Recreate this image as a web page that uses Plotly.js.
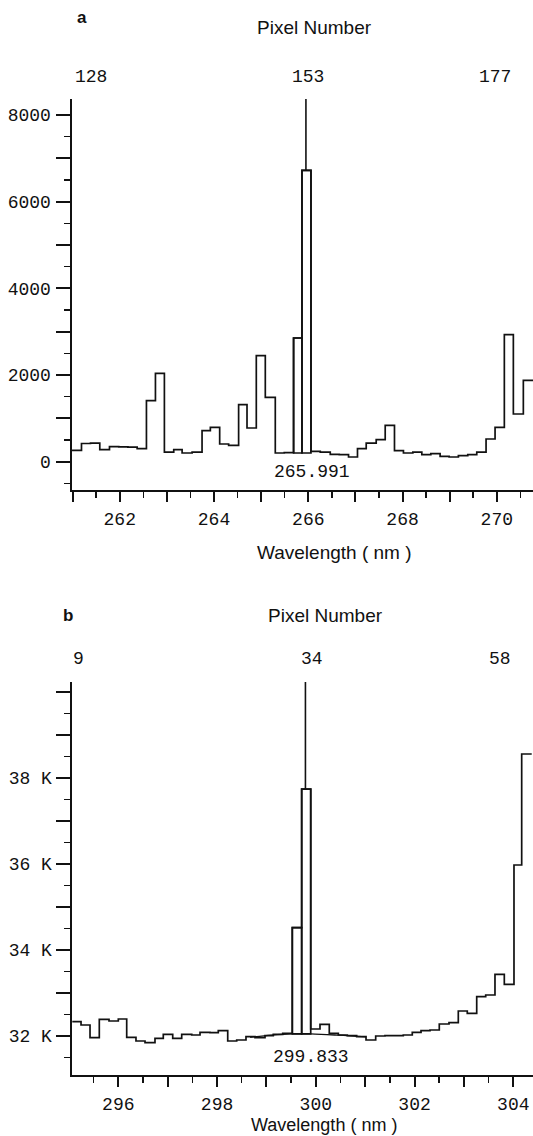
<!DOCTYPE html>
<html><head><meta charset="utf-8">
<script src="https://cdn.plot.ly/plotly-3.0.1.min.js"></script>
<style>html,body{margin:0;padding:0;background:#fff;} #chart{width:533px;height:1136px;}</style>
</head><body><div id="chart"></div>
<script>
// ---------- Panel a : data ----------
const edgesA = [260.987, 261.188, 261.379, 261.576, 261.782, 261.979, 262.174, 262.369, 262.566, 262.757,
  262.947, 263.145, 263.323, 263.535, 263.746, 263.922, 264.120, 264.310, 264.522, 264.700,
  264.897, 265.088, 265.300, 265.491, 265.688, 265.866, 266.057, 266.254, 266.466, 266.657,
  266.854, 267.044, 267.229, 267.441, 267.632, 267.829, 268.019, 268.219, 268.409, 268.600,
  268.797, 268.988, 269.185, 269.384, 269.575, 269.772, 269.963, 270.160, 270.351, 270.563, 270.768];
const countsA = [260, 420, 430, 277, 346, 340, 335, 300, 1407, 2037,
  223, 277, 200, 223, 715, 792, 408, 377, 1315, 777,
  2445, 1483, 200, 210, 2853, 6720, 238, 223, 170, 161,
  108, 300, 430, 507, 838, 254, 200, 223, 161, 185,
  123, 108, 138, 161, 223, 523, 792, 2930, 1100, 1876];
const peakBinsA = [24, 25];
const peakBaseA = 200;
const markerWlA = 265.95;
const markerLabelA = '265.991';
const pixelNumA = ['128', '153', '177'];
const pixelWlA = [261.38, 266.0, 269.97];
const xTickValsA = [261, 262, 263, 264, 265, 266, 267, 268, 269, 270];
const xTickTextA = ['', '262', '', '264', '', '266', '', '268', '', '270'];
const yTickValsA = [0, 1000, 2000, 3000, 4000, 5000, 6000, 7000, 8000];
const yTickTextA = ['0', '', '2000', '', '4000', '', '6000', '', '8000'];

// ---------- Panel b : data ----------
const edgesB = [295.068, 295.245, 295.427, 295.615, 295.812, 296.000, 296.170, 296.358, 296.541, 296.743,
  296.911, 297.102, 297.284, 297.487, 297.655, 297.857, 298.025, 298.216, 298.398, 298.586,
  298.769, 298.971, 299.139, 299.330, 299.524, 299.714, 299.897, 300.085, 300.273, 300.456,
  300.638, 300.828, 301.017, 301.213, 301.401, 301.584, 301.772, 301.954, 302.131, 302.313,
  302.501, 302.698, 302.886, 303.068, 303.259, 303.441, 303.629, 303.818, 304.014, 304.170, 304.373];
const countsB = [32333, 32256, 31960, 32388, 32349, 32395, 31970, 31884, 31845, 31946,
  32040, 31946, 32040, 32023, 32085, 32077, 32124, 31884, 31907, 31984,
  31960, 32007, 32040, 32062, 34519, 37740, 32163, 32270, 32062, 32023,
  32007, 31984, 31907, 32000, 32007, 32007, 32023, 32085, 32124, 32140,
  32279, 32310, 32581, 32527, 32915, 32953, 33435, 33202, 35977, 38558];
const peakBinsB = [24, 25];
const peakBaseB = 32050;
const baselineWlB = [298.67, 299.10, 299.52, 299.90, 300.46, 301.02];
const baselineB = [31970, 32020, 32050, 32050, 32020, 31980];
const markerWlB = 299.79;
const markerLabelB = '299.833';
const pixelNumB = ['9', '34', '58'];
const pixelWlB = [295.20, 299.92, 303.73];
const xTickValsB = [296, 297, 298, 299, 300, 301, 302, 303, 304];
const xTickTextB = ['296', '', '298', '', '300', '', '302', '', '304'];
const yTickValsB = [32000, 33000, 34000, 35000, 36000, 37000, 38000, 39000, 40000];
const yTickTextB = ['32 K', '', '34 K', '', '36 K', '', '38 K', '', ''];

// ---------- layout helpers ----------
const W = 533, H = 1136;
const px = v => v / W;
const py = v => 1 - v / H;
const INK = '#111';
const MONO = 'Liberation Mono, DejaVu Sans Mono, monospace';
const SANS = 'Liberation Sans, Arial, sans-serif';
const yRangeA = [-653, 8367];
const yRangeB = [31093, 40233];

function stepTrace(edges, counts, xa, ya) {
  return {x: edges, y: counts.concat([counts[counts.length - 1]]), xaxis: xa, yaxis: ya,
    type: 'scatter', mode: 'lines', line: {shape: 'hv', color: INK, width: 1.7}, hoverinfo: 'skip'};
}
function peakBars(edges, counts, idx, base, xa, ya) {
  return {type: 'bar', xaxis: xa, yaxis: ya,
    x: idx.map(i => (edges[i] + edges[i + 1]) / 2),
    width: idx.map(i => edges[i + 1] - edges[i]),
    y: idx.map(i => counts[i] - base), base: idx.map(() => base),
    marker: {color: 'rgba(0,0,0,0)', line: {color: INK, width: 1.7}}, hoverinfo: 'skip'};
}
function markerLine(wl, counts, idx, top, xa, ya) {
  const peak = Math.max(...idx.map(i => counts[i]));
  return {x: [wl, wl], y: [peak, top], xaxis: xa, yaxis: ya, type: 'scatter', mode: 'lines',
    line: {color: INK, width: 1.6}, hoverinfo: 'skip'};
}

const traces = [
  stepTrace(edgesA, countsA, 'x', 'y'),
  peakBars(edgesA, countsA, peakBinsA, peakBaseA, 'x', 'y'),
  markerLine(markerWlA, countsA, peakBinsA, yRangeA[1], 'x', 'y'),
  stepTrace(edgesB, countsB, 'x2', 'y2'),
  peakBars(edgesB, countsB, peakBinsB, peakBaseB, 'x2', 'y2'),
  {x: baselineWlB, y: baselineB, xaxis: 'x2', yaxis: 'y2', type: 'scatter', mode: 'lines',
    line: {shape: 'spline', color: INK, width: 1.4}, hoverinfo: 'skip'},
  markerLine(markerWlB, countsB, peakBinsB, yRangeB[1], 'x2', 'y2')
];

function xAxis(range, vals, text, ya) {
  return {domain: [px(71.5), 1], anchor: ya, range: range, showgrid: false, zeroline: false,
    showline: true, linecolor: INK, linewidth: 2, ticks: 'outside', ticklen: 10, tickwidth: 2, tickcolor: INK,
    tickmode: 'array', tickvals: vals, ticktext: text, ticklabelstandoff: 1,
    tickfont: {family: MONO, size: 18, color: INK},
    minor: {tickmode: 'linear', tick0: 0, dtick: 0.5, ticks: 'outside', ticklen: 6, tickwidth: 1.5, tickcolor: INK, showgrid: false}};
}
function yAxis(range, vals, text, domain, xa, dt, len, stand) {
  return {domain: domain, anchor: xa, range: range, showgrid: false, zeroline: false,
    showline: true, linecolor: INK, linewidth: 2, ticks: 'outside', ticklen: len, tickwidth: 2, tickcolor: INK,
    tickmode: 'array', tickvals: vals, ticktext: text, ticklabelstandoff: stand,
    tickfont: {family: MONO, size: 18, color: INK},
    minor: {tickmode: 'linear', tick0: 0, dtick: dt, ticks: 'outside', ticklen: 6, tickwidth: 1.5, tickcolor: INK, showgrid: false}};
}

const ann = [];
function txt(text, x, y, font, xref) {
  ann.push({text: text, x: x, y: y, xref: xref || 'paper', yref: 'paper', showarrow: false,
    xanchor: 'center', yanchor: 'middle', font: font});
}
const sansF = {family: SANS, size: 19, color: INK};
const monoF = {family: MONO, size: 18, color: INK};
// panel a texts
txt('<b>a</b>', px(82), py(17), {family: SANS, size: 17, color: INK});
txt('Pixel Number', px(314), py(27), sansF);
pixelNumA.forEach((t, i) => txt(t, pixelWlA[i], py(77), monoF, 'x'));
txt(markerLabelA, px(311.5), py(472), monoF);
txt('Wavelength ( nm )', px(334), py(552), sansF);
// panel b texts
txt('<b>b</b>', px(68), py(615), {family: SANS, size: 17, color: INK});
txt('Pixel Number', px(325), py(615), sansF);
pixelNumB.forEach((t, i) => txt(t, pixelWlB[i], py(659), monoF, 'x2'));
txt(markerLabelB, px(311.3), py(1057), monoF);
txt('Wavelength ( nm )', px(324), py(1125), {family: SANS, size: 18, color: INK});

const layout = {
  width: W, height: H, margin: {l: 0, r: 0, t: 0, b: 0},
  paper_bgcolor: '#fff', plot_bgcolor: '#fff', showlegend: false,
  xaxis: xAxis([260.976, 270.768], xTickValsA, xTickTextA, 'y'),
  yaxis: yAxis(yRangeA, yTickValsA, yTickTextA, [py(490), py(99)], 'x', 500, 14, 1),
  xaxis2: xAxis([295.052, 304.399], xTickValsB, xTickTextB, 'y2'),
  yaxis2: yAxis(yRangeB, yTickValsB, yTickTextB, [py(1075), py(682)], 'x2', 500, 14, 0),
  annotations: ann
};
Plotly.newPlot('chart', traces, layout, {displayModeBar: false, staticPlot: true});
</script></body></html>
